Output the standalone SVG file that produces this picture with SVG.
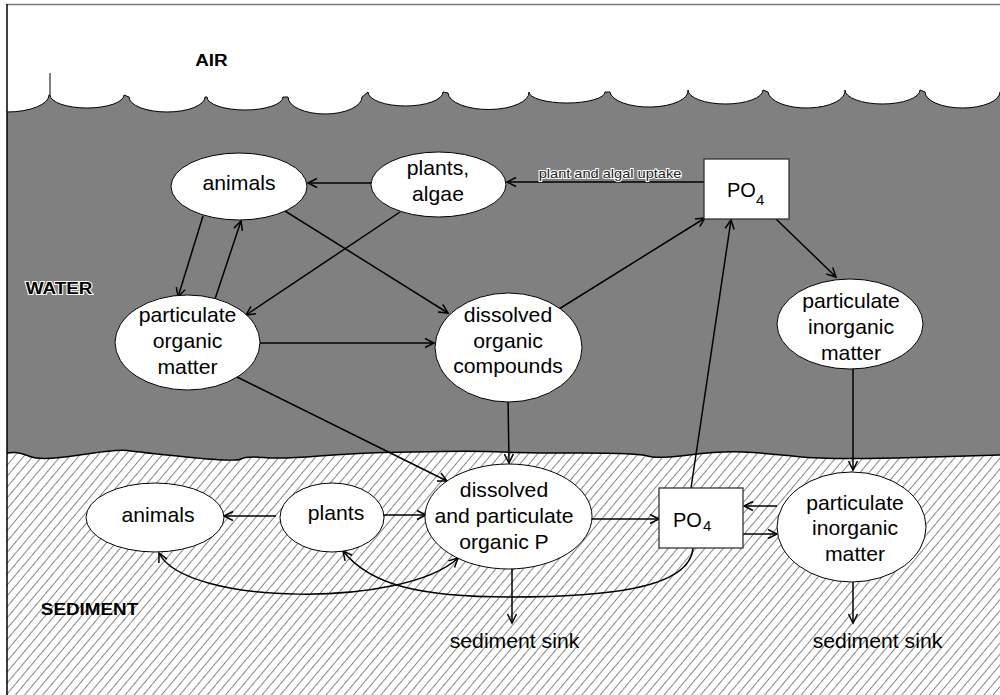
<svg xmlns="http://www.w3.org/2000/svg" width="1000" height="695" viewBox="0 0 1000 695">
<defs>
<style>
.lbl{font-family:"Liberation Sans",Arial,sans-serif;font-size:20px;fill:#000;text-anchor:middle}
.bold{font-family:"Liberation Sans",Arial,sans-serif;font-size:17px;font-weight:bold;fill:#000;text-anchor:middle}
.po{font-family:"Liberation Sans",Arial,sans-serif;font-size:20px;fill:#000}
.sub{font-family:"Liberation Sans",Arial,sans-serif;font-size:15px;fill:#000}
.node{fill:#fff;stroke:#000;stroke-width:1}
.box{fill:#fff;stroke:#333;stroke-width:1.3}
.c{fill:none;stroke:#000;stroke-width:1.5;marker-end:url(#ah)}
</style>
<marker id="ah" markerUnits="userSpaceOnUse" markerWidth="14" markerHeight="14" refX="11" refY="6" orient="auto-start-reverse" viewBox="0 0 14 12">
<path d="M2,1.5 L11,6 L2,10.5" fill="none" stroke="#000" stroke-width="1.5"/>
</marker>
<pattern id="hatch" width="7" height="10" patternUnits="userSpaceOnUse" patternTransform="rotate(40)">
<line x1="3.5" y1="-1" x2="3.5" y2="11" stroke="#7a7a7a" stroke-width="0.9"/>
</pattern>
</defs>
<rect x="0" y="0" width="1000" height="695" fill="#fff"/>
<g id="background">
<path id="water" fill="#808080" d="M7,112 A42,17 0 0 0 49,95 L50,95 A37,13 0 0 0 124,95 L129,97 A38,15 0 0 0 205,97 L207,97 A38,13 0 0 0 283,97 L288,97 A37,17 0 0 0 362,97 L368,92 A37.5,14 0 0 0 443,92 L448,93 A40.5,17 0 0 0 529,92 A38,11 0 0 0 605,92 L610,92 A39,16 0 0 0 688,90 A37.5,14 0 0 0 763,90 L768,92 A38.5,17 0 0 0 845,90 A37.5,14 0 0 0 920,90 L925,92 A37.5,16 0 0 0 1000,92 L1000,475 L7,475 Z"/>
<path fill="none" stroke="#000" stroke-width="1" d="M7,112 A42,17 0 0 0 49,95 L50,95 A37,13 0 0 0 124,95 L129,97 A38,15 0 0 0 205,97 L207,97 A38,13 0 0 0 283,97 L288,97 A37,17 0 0 0 362,97 L368,92 A37.5,14 0 0 0 443,92 L448,93 A40.5,17 0 0 0 529,92 A38,11 0 0 0 605,92 L610,92 A39,16 0 0 0 688,90 A37.5,14 0 0 0 763,90 L768,92 A38.5,17 0 0 0 845,90 A37.5,14 0 0 0 920,90 L925,92 A37.5,16 0 0 0 1000,92"/>
<line x1="50" y1="73" x2="50" y2="95" stroke="#000" stroke-width="1"/>
<path id="sediment" fill="#fff" d="M7,453 L13,452.5 Q19,452 30,456.5 Q41,461 79.5,455 Q118,449 127.5,450.5 Q137,452 186.5,457 Q236,462 241,459 Q246,456 263.5,457.5 Q281,459 319,456 Q357,453 382.5,452.5 Q408,452 443,451.5 Q478,451 503.5,452 Q529,453 583.5,453 Q638,453 647.5,456 Q657,459 689,455 Q721,451 743,452 Q765,453 797,456.5 Q829,460 914.5,457.5 L1000,455 L1000,695 L7,695 Z"/>
<path fill="url(#hatch)" d="M7,453 L13,452.5 Q19,452 30,456.5 Q41,461 79.5,455 Q118,449 127.5,450.5 Q137,452 186.5,457 Q236,462 241,459 Q246,456 263.5,457.5 Q281,459 319,456 Q357,453 382.5,452.5 Q408,452 443,451.5 Q478,451 503.5,452 Q529,453 583.5,453 Q638,453 647.5,456 Q657,459 689,455 Q721,451 743,452 Q765,453 797,456.5 Q829,460 914.5,457.5 L1000,455 L1000,695 L7,695 Z"/>
<path fill="none" stroke="#000" stroke-width="1.5" d="M7,453 L13,452.5 Q19,452 30,456.5 Q41,461 79.5,455 Q118,449 127.5,450.5 Q137,452 186.5,457 Q236,462 241,459 Q246,456 263.5,457.5 Q281,459 319,456 Q357,453 382.5,452.5 Q408,452 443,451.5 Q478,451 503.5,452 Q529,453 583.5,453 Q638,453 647.5,456 Q657,459 689,455 Q721,451 743,452 Q765,453 797,456.5 Q829,460 914.5,457.5 L1000,455"/>
<line x1="7" y1="4.5" x2="1000" y2="4.5" stroke="#777" stroke-width="1.5"/>
<line x1="7" y1="4" x2="7" y2="695" stroke="#000" stroke-width="1.5"/>
</g>
<g id="zone-labels">
<text class="bold" transform="translate(211.5 0) scale(1.11 1)" y="66">AIR</text>
<text class="bold" transform="translate(59 0) scale(1.11 1)" y="294" stroke="#fff" stroke-width="2" paint-order="stroke">WATER</text>
<text class="bold" transform="translate(89.5 0) scale(1.11 1)" y="615">SEDIMENT</text>
</g>
<g id="connectors">
<path class="c" d="M371,183 L308,183"/>
<path class="c" d="M704,182 L507,182"/>
<path class="c" d="M203,216 L178,297"/>
<path class="c" d="M215,299 L241,221"/>
<path class="c" d="M400,212 L246,315"/>
<path class="c" d="M285,211 L448,313"/>
<path class="c" d="M260,343 L434,343"/>
<path class="c" d="M559,309 L705,218"/>
<path class="c" d="M691,488 L731,220"/>
<path class="c" d="M776,219 L836,277"/>
<path class="c" d="M508,397 L509,463"/>
<path class="c" d="M237,377 L447,481"/>
<path class="c" d="M853,369 L853,470"/>
<path class="c" d="M276,516 L224,516"/>
<path class="c" d="M384,515 L426,515"/>
<path class="c" d="M592,519 L659,519"/>
<path class="c" d="M777,506 L744,506"/>
<path class="c" d="M743,534 L777,534"/>
<path class="c" d="M512,569 L512,623"/>
<path class="c" d="M853,582 L853,623"/>
<path class="c" style="marker-start:url(#ah)" d="M159,553 C185,606 405,608 458,558"/>
<path class="c" d="M693,548 C690,590 600,597 510,597 C420,597 370,585 343,551"/>
<text transform="translate(610 0) scale(1.08 1)" y="178" font-family="Liberation Sans, Arial, sans-serif" font-size="13.5" text-anchor="middle" fill="#222" stroke="#fff" stroke-width="2" paint-order="stroke">plant and algal uptake</text>
</g>
<g id="water-animals">
<ellipse class="node" cx="239" cy="186.5" rx="68" ry="33.5"/>
<text class="lbl" transform="translate(239 0) scale(1.06 1)" y="190">animals</text>
</g>
<g id="water-plants-algae">
<ellipse class="node" cx="438.5" cy="184.5" rx="67.5" ry="32.5"/>
<g transform="translate(438 0) scale(1.06 1)"><text class="lbl" y="175">plants,</text><text class="lbl" y="201">algae</text></g>
</g>
<g id="water-po4">
<rect class="box" x="704" y="159" width="85" height="60"/>
<text class="po" x="727" y="197">PO<tspan class="sub" dy="8">4</tspan></text>
</g>
<g id="water-particulate-organic">
<ellipse class="node" cx="187.5" cy="342.5" rx="72.5" ry="47.5"/>
<g transform="translate(187.5 0) scale(1.06 1)"><text class="lbl" y="322">particulate</text><text class="lbl" y="348">organic</text><text class="lbl" y="374">matter</text></g>
</g>
<g id="water-dissolved-organic">
<ellipse class="node" cx="508.5" cy="347.5" rx="73.5" ry="54.5"/>
<g transform="translate(508 0) scale(1.06 1)"><text class="lbl" y="322">dissolved</text><text class="lbl" y="348">organic</text><text class="lbl" y="373">compounds</text></g>
</g>
<g id="water-particulate-inorganic">
<ellipse class="node" cx="850" cy="324" rx="73" ry="45"/>
<g transform="translate(851 0) scale(1.06 1)"><text class="lbl" y="308">particulate</text><text class="lbl" y="334">inorganic</text><text class="lbl" y="360">matter</text></g>
</g>
<g id="sed-animals">
<ellipse class="node" cx="155" cy="517.5" rx="69" ry="34.5"/>
<text class="lbl" transform="translate(158 0) scale(1.06 1)" y="522">animals</text>
</g>
<g id="sed-plants">
<ellipse class="node" cx="332" cy="517.5" rx="52" ry="34.5"/>
<text class="lbl" transform="translate(336 0) scale(1.06 1)" y="520">plants</text>
</g>
<g id="sed-organic-p">
<ellipse class="node" cx="508.5" cy="516.5" rx="83.5" ry="52.5"/>
<g transform="translate(504 0) scale(1.06 1)"><text class="lbl" y="497">dissolved</text><text class="lbl" y="523">and particulate</text><text class="lbl" y="549">organic P</text></g>
</g>
<g id="sed-po4">
<rect class="box" x="659" y="488" width="84" height="60"/>
<text class="po" x="673" y="527">PO<tspan class="sub" dx="1" dy="4">4</tspan></text>
</g>
<g id="sed-particulate-inorganic">
<ellipse class="node" cx="851.5" cy="527" rx="74.5" ry="55"/>
<g transform="translate(855 0) scale(1.06 1)"><text class="lbl" y="510">particulate</text><text class="lbl" y="535">inorganic</text><text class="lbl" y="561">matter</text></g>
</g>
<g id="sink-left">
<text class="lbl" transform="translate(514.5 0) scale(1.06 1)" y="648">sediment sink</text>
</g>
<g id="sink-right">
<text class="lbl" transform="translate(877.5 0) scale(1.06 1)" y="648">sediment sink</text>
</g>
</svg>
